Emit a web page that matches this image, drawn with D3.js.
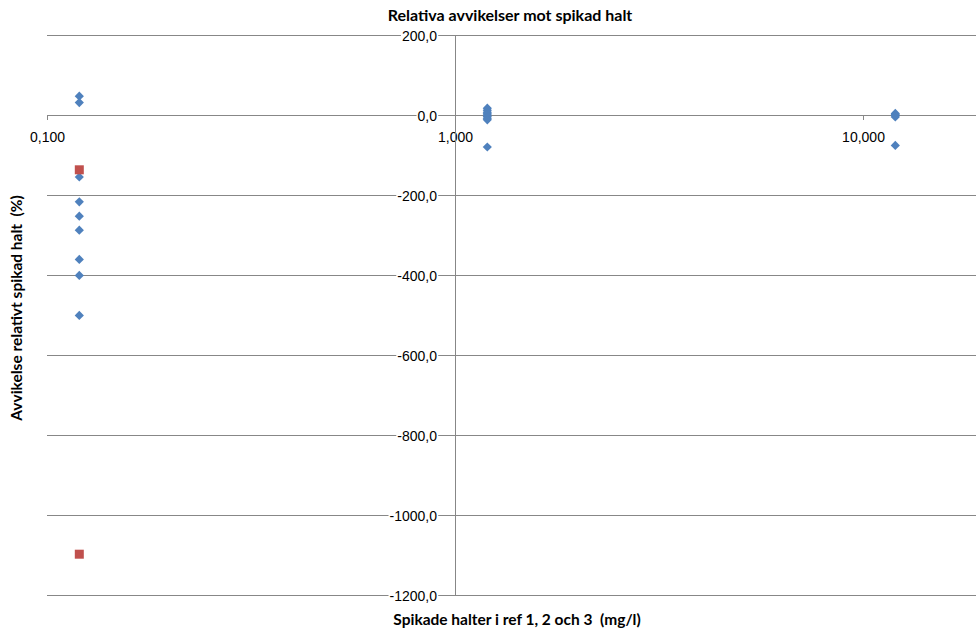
<!DOCTYPE html>
<html>
<head>
<meta charset="utf-8">
<script src="https://cdn.jsdelivr.net/npm/d3@7"></script>
<style>
  html, body { margin: 0; padding: 0; background: #fff; }
  svg { display: block; font-family: Lato, "Open Sans", "DejaVu Sans", sans-serif; }
  .title { white-space: pre; }
</style>
</head>
<body>
<svg id="chart" width="976" height="632"></svg>
<script>
// Spiked concentrations (mg/l) and the relative deviation (%) per result
const blueX = [0.12, 0.12, 0.12, 0.12, 0.12, 0.12, 0.12, 0.12, 0.12,
               1.2, 1.2, 1.2, 1.2, 1.2, 1.2, 1.2, 1.2, 1.2,
               12, 12, 12, 12, 12];
const blueY = [47, 31, -155, -217, -253, -288, -361, -401, -501,
               17, 12, 7, 3, 0, -4, -8, -12, -80,
               4, 1, -2, -5, -76];
const redX = [0.12, 0.12];
const redY = [-137, -1098];

const xTicks = [0.1, 1, 10];
const yTicks = [200, 0, -200, -400, -600, -800, -1000, -1200];

const titleText = "Relativa avvikelser mot spikad halt";
const xTitle = "Spikade halter i ref 1, 2 och 3  (mg/l)";
const yTitle = "Avvikelse relativt spikad halt  (%)";

const svg = d3.select("#chart");
const gridColor = "#878787";

// Log axis runs over three decades; the view ends partway through the last one
const x = d3.scaleLog().domain([0.1, 100]).range([47, 1271]);
const y = d3.scaleLinear().domain([-1200, 200]).range([595, 35]);

const fmt = (v, n) => v.toFixed(n).replace(".", ",");

// Horizontal gridlines across the plot area
const grid = svg.append("g")
  .attr("transform", `translate(${x(0.1)},0)`)
  .call(d3.axisLeft(y).tickValues(yTicks).tickSize(-(x(100) - x(0.1))).tickFormat(""));
grid.select(".domain").remove();
grid.selectAll(".tick line").attr("stroke", gridColor).attr("stroke-width", 1);

// Horizontal axis, crossing at zero
const xAxis = svg.append("g")
  .attr("transform", `translate(0,${y(0)})`)
  .call(d3.axisBottom(x).tickValues(xTicks).tickSize(5).tickFormat(d => fmt(d, 3)));
xAxis.select(".domain").attr("stroke", gridColor);
xAxis.selectAll(".tick line").attr("stroke", gridColor);
xAxis.selectAll(".tick text")
  .attr("y", 27).attr("dy", null)
  .attr("font-size", 14).attr("fill", "#000");

// Vertical axis, crossing at x = 1
const yAxis = svg.append("g")
  .attr("transform", `translate(${x(1)},0)`)
  .call(d3.axisLeft(y).tickValues(yTicks).tickSize(0).tickPadding(18).tickFormat(d => fmt(d, 1)));
yAxis.select(".domain").attr("stroke", gridColor);
yAxis.selectAll(".tick text")
  .attr("dy", "0.36em")
  .attr("font-size", 14).attr("fill", "#000");

// White boxes behind value labels so gridlines stop at the text
svg.selectAll(".tick").each(function () {
  const t = d3.select(this).select("text");
  if (t.empty() || !t.text()) return;
  const b = t.node().getBBox();
  d3.select(this).insert("rect", "text")
    .attr("x", b.x - 1).attr("y", b.y).attr("width", b.width + 2).attr("height", b.height)
    .attr("fill", "#fff");
});

// Blue diamonds
const diamond = "M0,-4.6L4.6,0L0,4.6L-4.6,0Z";
svg.append("g").selectAll("path")
  .data(blueX.map((v, i) => [v, blueY[i]]))
  .join("path")
  .attr("d", diamond)
  .attr("transform", d => `translate(${x(d[0])},${y(d[1])})`)
  .attr("fill", "#4F81BD");

// Red squares
svg.append("g").selectAll("rect")
  .data(redX.map((v, i) => [v, redY[i]]))
  .join("rect")
  .attr("x", d => x(d[0]) - 4.5)
  .attr("y", d => y(d[1]) - 4.5)
  .attr("width", 9).attr("height", 9)
  .attr("fill", "#C0504D");

// Titles
svg.append("text")
  .attr("class", "title")
  .attr("x", 510).attr("y", 21)
  .attr("text-anchor", "middle")
  .attr("font-size", 16).attr("font-weight", "bold")
  .text(titleText);

svg.append("text")
  .attr("class", "title")
  .attr("x", 517).attr("y", 625)
  .attr("text-anchor", "middle")
  .attr("font-size", 15.5).attr("font-weight", "bold")
  .text(xTitle);

svg.append("text")
  .attr("class", "title")
  .attr("transform", "translate(22,308) rotate(-90)")
  .attr("text-anchor", "middle")
  .attr("font-size", 15.5).attr("font-weight", "bold")
  .text(yTitle);
</script>
</body>
</html>
